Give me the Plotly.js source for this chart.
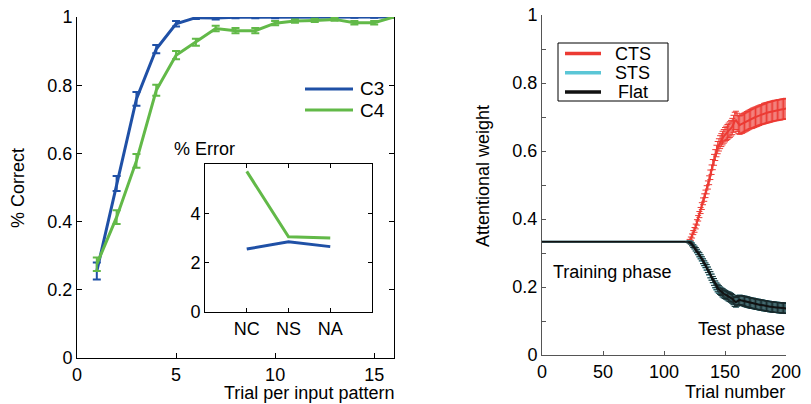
<!DOCTYPE html>
<html>
<head>
<meta charset="utf-8">
<script src="https://cdn.plot.ly/plotly-3.0.1.min.js"></script>
<style>html,body{margin:0;padding:0;background:#fff;}#chart{width:811px;height:404px;}</style>
</head>
<body>
<div id="chart"></div>
<script>
// ---------- Left panel: % Correct vs trial per input pattern ----------
const patternTrials = [1,2,3,4,5,6,7,8,9,10,11,12,13,14,15,16];
const c3Correct = [0.255,0.512,0.760,0.906,0.980,0.998,0.997,0.999,0.999,0.999,1.000,0.999,1.000,1.000,1.000,1.000];
const c3Err     = [0.025,0.022,0.020,0.012,0.008,0.004,0.004,0.003,0.003,0.003,0.002,0.002,0.002,0.002,0.002,0.002];
const c4Correct = [0.275,0.413,0.578,0.785,0.888,0.926,0.966,0.960,0.960,0.982,0.988,0.990,0.993,0.983,0.983,1.000];
const c4Err     = [0.020,0.020,0.020,0.016,0.012,0.010,0.008,0.008,0.008,0.006,0.005,0.005,0.004,0.005,0.005,0.002];
const leftSeriesNames = ['C3','C4'];
const leftXTicks = [0,5,10,15];

// ---------- Inset: % Error ----------
const errCats = ['NC','NS','NA'];
const c3Error = [2.55,2.85,2.65];
const c4Error = [5.70,3.05,3.00];

// ---------- Right panel: attentional weight ----------
const trainTrials = [0,120];
const trainWeight = [0.333,0.333];
const testStart = 120, testEnd = 200;
const ctsVals = [0.333,0.336,0.342,0.350,0.360,0.368,0.378,0.390,0.402,0.413,
  0.425,0.438,0.452,0.463,0.474,0.486,0.500,0.514,0.530,0.545,
  0.560,0.574,0.588,0.600,0.610,0.618,0.626,0.632,0.638,0.643,
  0.648,0.652,0.656,0.660,0.663,0.667,0.672,0.680,0.688,0.690,
  0.684,0.678,0.676,0.678,0.680,0.682,0.684,0.686,0.688,0.690,
  0.692,0.694,0.695,0.697,0.698,0.700,0.701,0.703,0.704,0.706,
  0.707,0.708,0.710,0.711,0.712,0.713,0.714,0.715,0.716,0.717,
  0.718,0.719,0.719,0.720,0.721,0.721,0.722,0.723,0.723,0.724,0.725];
const ctsErr = [0.000,0.004,0.005,0.006,0.006,0.007,0.007,0.008,0.008,0.009,
  0.009,0.010,0.010,0.011,0.011,0.012,0.012,0.013,0.014,0.014,
  0.015,0.016,0.016,0.017,0.018,0.018,0.019,0.019,0.020,0.020,
  0.021,0.021,0.022,0.022,0.023,0.023,0.024,0.025,0.026,0.027,
  0.027,0.027,0.027,0.027,0.028,0.028,0.028,0.028,0.028,0.028,
  0.028,0.028,0.029,0.029,0.029,0.029,0.029,0.029,0.029,0.029,
  0.029,0.029,0.030,0.030,0.030,0.030,0.030,0.030,0.030,0.030,
  0.030,0.030,0.030,0.030,0.030,0.030,0.030,0.030,0.030,0.030,0.030];
const stsVals = [0.333,0.333,0.330,0.326,0.321,0.316,0.311,0.305,0.300,0.294,
  0.288,0.282,0.275,0.269,0.263,0.257,0.250,0.243,0.236,0.229,
  0.221,0.214,0.207,0.201,0.196,0.192,0.189,0.186,0.183,0.180,
  0.178,0.176,0.174,0.172,0.170,0.168,0.165,0.161,0.157,0.155,
  0.158,0.161,0.162,0.161,0.160,0.159,0.158,0.157,0.156,0.155,
  0.154,0.153,0.152,0.152,0.151,0.150,0.149,0.149,0.148,0.147,
  0.147,0.146,0.145,0.145,0.144,0.143,0.143,0.142,0.142,0.141,
  0.141,0.140,0.140,0.140,0.139,0.139,0.139,0.138,0.138,0.138,0.137];
const flatVals = [0.333,0.332,0.329,0.325,0.320,0.316,0.311,0.306,0.300,0.295,
  0.289,0.283,0.276,0.270,0.264,0.258,0.251,0.244,0.236,0.229,
  0.222,0.215,0.208,0.202,0.197,0.193,0.189,0.186,0.183,0.180,
  0.178,0.176,0.174,0.172,0.170,0.168,0.165,0.161,0.157,0.155,
  0.158,0.161,0.162,0.161,0.160,0.159,0.158,0.157,0.156,0.155,
  0.154,0.153,0.152,0.152,0.151,0.150,0.149,0.149,0.148,0.147,
  0.147,0.146,0.145,0.145,0.144,0.143,0.143,0.142,0.142,0.141,
  0.141,0.140,0.140,0.140,0.139,0.139,0.139,0.138,0.138,0.138,0.137];
const sideErr = [0.000,0.003,0.003,0.004,0.004,0.004,0.005,0.005,0.005,0.006,
  0.006,0.006,0.007,0.007,0.007,0.008,0.008,0.008,0.009,0.009,
  0.009,0.010,0.010,0.010,0.011,0.011,0.011,0.011,0.012,0.012,
  0.012,0.012,0.012,0.013,0.013,0.013,0.013,0.013,0.014,0.014,
  0.014,0.014,0.014,0.014,0.014,0.014,0.015,0.015,0.015,0.015,
  0.015,0.015,0.015,0.015,0.015,0.015,0.015,0.015,0.015,0.015,
  0.015,0.015,0.015,0.015,0.015,0.015,0.015,0.015,0.015,0.015,
  0.015,0.015,0.015,0.015,0.015,0.015,0.015,0.015,0.015,0.015,0.015];
const rightSeriesNames = ['CTS','STS','Flat'];
const testTrials = [];
for (let t = testStart; t <= testEnd; t++) testTrials.push(t);

const leftYTicks = [0,0.2,0.4,0.6,0.8,1];
const leftYText = ['0','0.2','0.4','0.6','0.8','1'];
const rightXTicks = [0,50,100,150,200];
const rightYTicks = [0,0.1,0.2,0.3,0.4,0.5,0.6,0.7,0.8,0.9,1];
const rightYText = ['0','','0.2','','0.4','','0.6','','0.8','','1'];

const BLUE = '#1f50a6', GREEN = '#62b948', RED = '#ec3a33', CYAN = '#5bc6d6', BLACK = '#111';
const FONT = 'Liberation Sans, Arial, sans-serif';
const W = 811, H = 404;
const px = v => v / W, py = v => (H - v) / H;

const traces = [
  {x: patternTrials, y: c3Correct, xaxis:'x', yaxis:'y', mode:'lines', name:leftSeriesNames[0], showlegend:false,
   line:{color:BLUE, width:3},
   error_y:{type:'data', array:c3Err, visible:true, color:BLUE, thickness:2, width:4}},
  {x: patternTrials, y: c4Correct, xaxis:'x', yaxis:'y', mode:'lines', name:leftSeriesNames[1], showlegend:false,
   line:{color:GREEN, width:3},
   error_y:{type:'data', array:c4Err, visible:true, color:GREEN, thickness:2, width:4}},
  {x: errCats, y: c3Error, xaxis:'x3', yaxis:'y3', mode:'lines', name:'C3 error', showlegend:false,
   line:{color:BLUE, width:3}},
  {x: errCats, y: c4Error, xaxis:'x3', yaxis:'y3', mode:'lines', name:'C4 error', showlegend:false,
   line:{color:GREEN, width:3}},
  {x: testTrials, y: ctsVals, xaxis:'x2', yaxis:'y2', mode:'lines', name:rightSeriesNames[0], showlegend:false,
   line:{color:RED, width:2},
   error_y:{type:'data', array:ctsErr, visible:true, color:RED, thickness:1, width:3}},
  {x: trainTrials, y: trainWeight, xaxis:'x2', yaxis:'y2', mode:'lines', showlegend:false,
   line:{color:CYAN, width:2}},
  {x: testTrials, y: stsVals, xaxis:'x2', yaxis:'y2', mode:'lines', name:rightSeriesNames[1], showlegend:false,
   line:{color:CYAN, width:2},
   error_y:{type:'data', array:sideErr, visible:true, color:CYAN, thickness:1, width:3}},
  {x: trainTrials, y: trainWeight, xaxis:'x2', yaxis:'y2', mode:'lines', showlegend:false,
   line:{color:BLACK, width:2}},
  {x: testTrials, y: flatVals, xaxis:'x2', yaxis:'y2', mode:'lines', name:rightSeriesNames[2], showlegend:false,
   line:{color:BLACK, width:2},
   error_y:{type:'data', array:sideErr, visible:true, color:'#1a2a2c', thickness:1, width:3}}
];

const axBase = {showgrid:false, zeroline:false, showline:true, linecolor:'#000', linewidth:1,
  ticks:'inside', ticklen:4, tickcolor:'#000', tickfont:{family:FONT, size:18, color:'#000'}};

// Legend keys (drawn as shapes + text in paper space)
const shapes = [];
const annotations = [];
const leftColors = [BLUE, GREEN];
leftSeriesNames.forEach((n, i) => {
  const yy = 89 + i * 21;
  shapes.push({type:'line', xref:'paper', yref:'paper', x0:px(305), x1:px(353), y0:py(yy), y1:py(yy),
    line:{color:leftColors[i], width:3}});
  annotations.push({text:n, xref:'paper', yref:'paper', x:px(358), y:py(yy), showarrow:false,
    xanchor:'left', yanchor:'middle', font:{family:FONT, size:19, color:'#000'}});
});
shapes.push({type:'rect', xref:'paper', yref:'paper', x0:px(558), x1:px(668), y0:py(43), y1:py(101),
  line:{color:'#000', width:1}, fillcolor:'#fff', layer:'above'});
const rightColors = [RED, CYAN, BLACK];
rightSeriesNames.forEach((n, i) => {
  const yy = 53.5 + i * 19.3;
  shapes.push({type:'line', xref:'paper', yref:'paper', x0:px(565), x1:px(601), y0:py(yy), y1:py(yy),
    line:{color:rightColors[i], width:3.5}, layer:'above'});
  annotations.push({text:n, xref:'paper', yref:'paper', x:px(i === 2 ? 616 : 613), y:py(yy), showarrow:false,
    xanchor:'left', yanchor:'middle', font:{family:FONT, size:18, color:'#000'}});
});

const layout = {
  width: W, height: H,
  margin:{l:0, r:0, t:0, b:0},
  paper_bgcolor:'#fff', plot_bgcolor:'rgba(0,0,0,0)',
  font:{family:FONT, size:18, color:'#000'},
  showlegend:false,
  xaxis: Object.assign({}, axBase, {domain:[px(77), px(394)], range:[0,16], tickvals:leftXTicks,
    anchor:'y', ticklen:5}),
  xaxis4: Object.assign({}, axBase, {range:[0,16], tickvals:leftXTicks, overlaying:'x', side:'top',
    anchor:'y', ticklen:5, showticklabels:false}),
  yaxis: Object.assign({}, axBase, {domain:[py(358), py(17)], range:[0,1], tickvals:leftYTicks,
    ticktext:leftYText, mirror:'ticks', anchor:'x', ticklen:5}),
  xaxis3: Object.assign({}, axBase, {domain:[px(205), px(372)], range:[-1,3], type:'category',
    mirror:'ticks', anchor:'y3'}),
  yaxis3: Object.assign({}, axBase, {domain:[py(312), py(164)], range:[0,6], tickvals:[0,2,4],
    mirror:'ticks', anchor:'x3'}),
  xaxis2: Object.assign({}, axBase, {domain:[px(542), px(786)], range:[0,200], tickvals:rightXTicks,
    anchor:'y2', linecolor:'#555', tickcolor:'#555'}),
  yaxis2: Object.assign({}, axBase, {domain:[py(355), py(15)], range:[0,1], tickvals:rightYTicks,
    ticktext:rightYText, anchor:'x2', linecolor:'#555', tickcolor:'#555'}),
  shapes: shapes,
  annotations: annotations.concat([
    {text:'% Correct', xref:'paper', yref:'paper', x:px(18), y:py(188), textangle:-90,
     showarrow:false, xanchor:'center', yanchor:'middle', font:{family:FONT, size:18}},
    {text:'Trial per input pattern', xref:'paper', yref:'paper', x:px(396), y:py(393),
     showarrow:false, xanchor:'right', yanchor:'middle', font:{family:FONT, size:18}},
    {text:'% Error', xref:'paper', yref:'paper', x:px(172), y:py(149),
     showarrow:false, xanchor:'left', yanchor:'middle', font:{family:FONT, size:18}},
    {text:'Attentional weight', xref:'paper', yref:'paper', x:px(483), y:py(176), textangle:-90,
     showarrow:false, xanchor:'center', yanchor:'middle', font:{family:FONT, size:18}},
    {text:'Trial number', xref:'paper', yref:'paper', x:px(787), y:py(392),
     showarrow:false, xanchor:'right', yanchor:'middle', font:{family:FONT, size:18}},
    {text:'Training phase', xref:'paper', yref:'paper', x:px(551), y:py(272),
     showarrow:false, xanchor:'left', yanchor:'middle', font:{family:FONT, size:18}},
    {text:'Test phase', xref:'paper', yref:'paper', x:px(787), y:py(329),
     showarrow:false, xanchor:'right', yanchor:'middle', font:{family:FONT, size:18}}
  ])
};

Plotly.newPlot('chart', traces, layout, {displayModeBar:false, staticPlot:true});
</script>
</body>
</html>
